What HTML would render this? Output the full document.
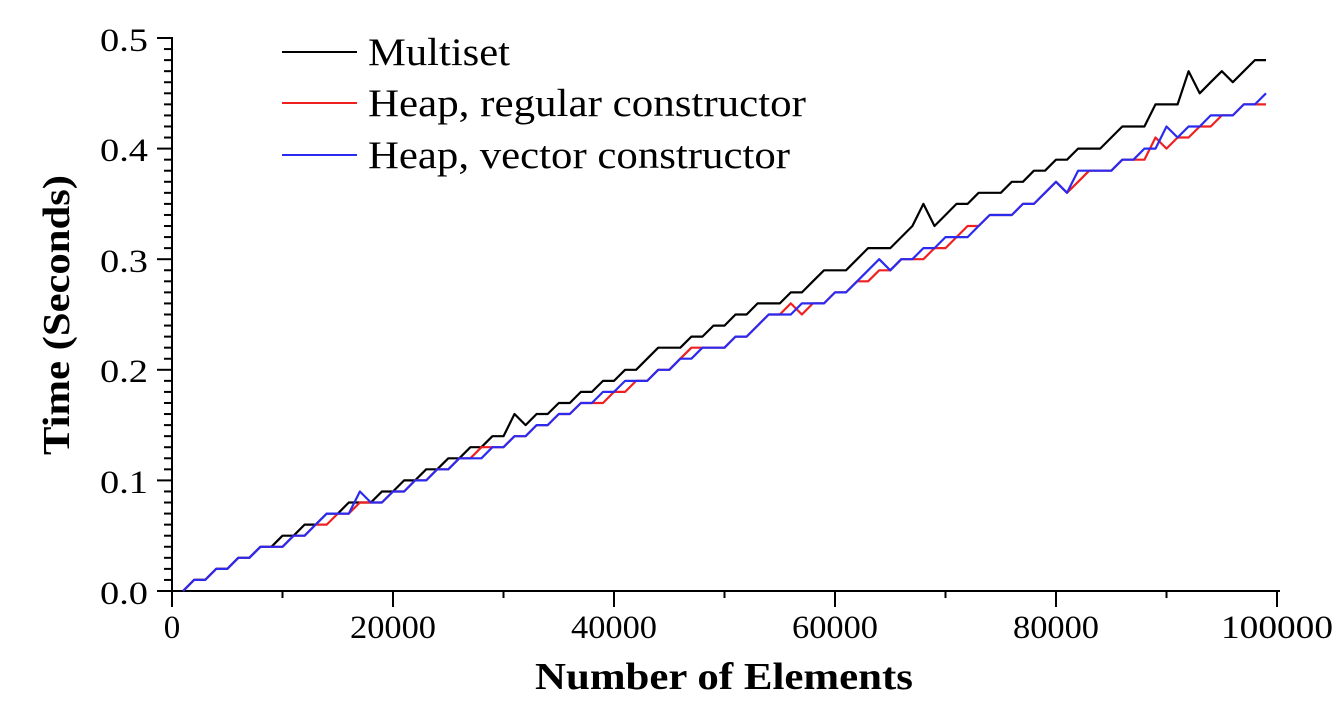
<!DOCTYPE html>
<html><head><meta charset="utf-8"><style>
html,body{margin:0;padding:0;background:#fff;}
svg{display:block;}
text{font-family:"Liberation Serif",serif;fill:#000;}
</style></head><body>
<svg id="s" width="1344" height="716" xmlns="http://www.w3.org/2000/svg">
<g id="axes" stroke="#000" stroke-width="2" fill="none">
<line x1="172" y1="37" x2="172" y2="592"/>
<line x1="171" y1="591" x2="1280" y2="591"/>
</g>
<g id="ticks" stroke="#000" stroke-width="2"></g>
<g font-size="33">
<text x="148" y="51" text-anchor="end" textLength="48" lengthAdjust="spacingAndGlyphs">0.5</text>
<text x="148" y="161" text-anchor="end" textLength="48" lengthAdjust="spacingAndGlyphs">0.4</text>
<text x="148" y="272" text-anchor="end" textLength="48" lengthAdjust="spacingAndGlyphs">0.3</text>
<text x="148" y="382" text-anchor="end" textLength="48" lengthAdjust="spacingAndGlyphs">0.2</text>
<text x="148" y="493" text-anchor="end" textLength="48" lengthAdjust="spacingAndGlyphs">0.1</text>
<text x="148" y="604" text-anchor="end" textLength="48" lengthAdjust="spacingAndGlyphs">0.0</text>
<text x="172" y="638" text-anchor="middle">0</text>
<text x="393" y="638" text-anchor="middle" textLength="86" lengthAdjust="spacingAndGlyphs">20000</text>
<text x="614" y="638" text-anchor="middle" textLength="86" lengthAdjust="spacingAndGlyphs">40000</text>
<text x="835" y="638" text-anchor="middle" textLength="86" lengthAdjust="spacingAndGlyphs">60000</text>
<text x="1056" y="638" text-anchor="middle" textLength="86" lengthAdjust="spacingAndGlyphs">80000</text>
<text x="1277" y="638" text-anchor="middle" textLength="112" lengthAdjust="spacingAndGlyphs">100000</text>
</g>
<text x="724" y="689" text-anchor="middle" font-size="38" font-weight="bold" textLength="378" lengthAdjust="spacingAndGlyphs">Number of Elements</text>
<text transform="translate(69,315) rotate(-90)" text-anchor="middle" font-size="38" font-weight="bold" textLength="280" lengthAdjust="spacingAndGlyphs">Time (Seconds)</text>
<g font-size="39">
<line x1="282" y1="52" x2="357" y2="52" stroke="#000" stroke-width="2"/>
<text x="368" y="65" textLength="142" lengthAdjust="spacingAndGlyphs">Multiset</text>
<line x1="282" y1="103" x2="357" y2="103" stroke="#f02020" stroke-width="2"/>
<text x="368" y="116" textLength="438" lengthAdjust="spacingAndGlyphs">Heap, regular constructor</text>
<line x1="282" y1="155" x2="357" y2="155" stroke="#2b2bf0" stroke-width="2"/>
<text x="368" y="168" textLength="422" lengthAdjust="spacingAndGlyphs">Heap, vector constructor</text>
</g>
<g id="series" fill="none" stroke-width="2.2" stroke-linejoin="round"></g>
</svg>
<script>
var NS="http://www.w3.org/2000/svg";
function X(n){return 172+11.05*n/1000;}
function Y(v){return 591-1106*v;}
var t=document.getElementById('ticks');
function ln(x1,y1,x2,y2){var l=document.createElementNS(NS,'line');l.setAttribute('x1',x1);l.setAttribute('y1',y1);l.setAttribute('x2',x2);l.setAttribute('y2',y2);t.appendChild(l);}
for(var i=0;i<=50;i++){var y=Y(i/100);ln(i%10==0?157:164,y,172,y);}
for(var i=0;i<=10;i++){var x=X(i*10000);ln(x,591,x,i%2==0?607:598);}
var blue=[0,.01,.01,.02,.02,.03,.03,.04,.04,.04,.05,.05,.06,.07,.07,.07,.09,.08,.08,.09,.09,.10,.10,.11,.11,.12,.12,.12,.13,.13,.14,.14,.15,.15,.16,.16,.17,.17,.18,.18,.19,.19,.19,.20,.20,.21,.21,.22,.22,.22,.23,.23,.24,.25,.25,.25,.26,.26,.26,.27,.27,.28,.29,.30,.29,.30,.30,.31,.31,.32,.32,.32,.33,.34,.34,.34,.35,.35,.36,.37,.36,.38,.38,.38,.38,.39,.39,.40,.40,.42,.41,.42,.42,.43,.43,.43,.44,.44,.45];
var red=blue.slice();
var ro={14:.06,15:.07,17:.08,28:.13,39:.17,40:.18,41:.18,42:.19,47:.22,56:.26,57:.25,58:.26,63:.28,64:.29,65:.29,67:.30,68:.30,69:.31,70:.31,71:.32,72:.33,73:.33,80:.37,81:.36,82:.37,83:.38,87:.39,88:.39,89:.41,90:.40,91:.41,92:.41,93:.42,94:.42,95:.43,96:.43,97:.44,98:.44,99:.44};
for(var k in ro)red[k-1]=ro[k];
var black=blue.slice(0,9).concat([.05,.05,.06,.06,.07,.07,.08,.08,.08,.09,.09,.10,.10,.11,.11,.12,.12,.13,.13,.14,.14,.16,.15,.16,.16,.17,.17,.18,.18,.19,.19,.20,.20,.21,.22,.22,.22,.23,.23,.24,.24,.25,.25,.26,.26,.26,.27,.27,.28,.29,.29,.29,.30,.31,.31,.31,.32,.33,.35,.33,.34,.35,.35,.36,.36,.36,.37,.37,.38,.38,.39,.39,.40,.40,.40,.41,.42,.42,.42,.44,.44,.44,.47,.45,.46,.47,.46,.47,.48,.48]);
var g=document.getElementById('series');
function poly(a,c){var p=document.createElementNS(NS,'polyline');var s=[];for(var i=0;i<a.length;i++)s.push(X((i+1)*1000).toFixed(1)+','+Y(a[i]).toFixed(1));p.setAttribute('points',s.join(' '));p.setAttribute('stroke',c);g.appendChild(p);}
poly(black,'#000');poly(red,'#f02020');poly(blue,'#2b2bf0');
</script>
</body></html>
